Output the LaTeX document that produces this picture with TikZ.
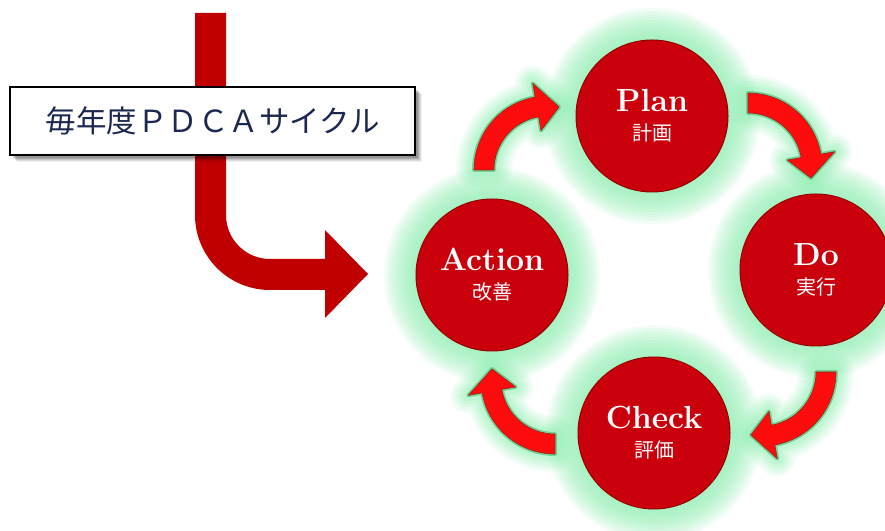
\documentclass[tikz,border=0pt]{standalone}
\usepackage{fontspec}
\newfontfamily\cjk{Noto Sans CJK JP}
\usetikzlibrary{calc}
\definecolor{bandred}{RGB}{192,0,0}
\definecolor{ballred}{RGB}{202,0,12}
\definecolor{balledge}{RGB}{150,0,0}
\definecolor{arrowred}{RGB}{252,12,12}
\definecolor{arrowedge}{RGB}{150,40,30}
\definecolor{glowgreen}{RGB}{135,236,172}
\definecolor{rimgreen}{RGB}{70,190,110}
\definecolor{titleblue}{RGB}{28,40,80}

\tikzset{
  phase/.style={circle, minimum size=152pt, inner sep=0pt, fill=ballred,
    draw=balledge, line width=1pt, text=white, align=center,
    font=\bfseries\fontsize{32}{32}\selectfont},
  titlebox/.style={draw=black, line width=1.5pt, fill=white, inner sep=0pt,
    minimum width=405pt, minimum height=68pt, text=titleblue,
    font=\cjk\fontsize{30.5}{30.5}\selectfont},
  bandarrow/.style={fill=bandred},
  cyclefill/.style={fill=arrowred, draw=arrowedge, line width=0.6pt, line join=round},
}

% soft green halo around a phase circle
\newcommand\ballglow[1]{%
  \foreach \r in {108,105,...,78}{\fill[glowgreen, opacity=0.11] (#1) circle[radius=\r pt];}}

% outline of a curved block arrow: centre, start angle, head base angle, tip angle
\newcommand\cyclepath[4]{($(#1)+(#2:74pt)$) arc[start angle=#2, end angle=#3, radius=74pt]
  -- ($(#1)+(#3:88pt)$) -- ($(#1)+(#4:64pt)$) -- ($(#1)+(#3:40pt)$)
  -- ($(#1)+(#3:54pt)$) arc[start angle=#3, end angle=#2, radius=54pt] -- cycle}

\newcommand\cycleglow[4]{%
  \foreach \w/\o in {36/0.1,30/0.12,24/0.14,18/0.16,12/0.2}{%
    \draw[glowgreen, line width=\w pt, opacity=\o, line join=round] \cyclepath{#1}{#2}{#3}{#4};}
  \draw[rimgreen, line width=4pt, opacity=0.6, line join=round] \cyclepath{#1}{#2}{#3}{#4};}

\newcommand\subtext[1]{{\cjk\mdseries\fontsize{20}{20}\selectfont #1}}

\begin{document}
\begin{tikzpicture}[x=1pt, y=1pt]
\useasboundingbox (0,0) rectangle (885,530);
\clip (0,0) rectangle (885,530);

% centres of the four phases and of the arcs between them
\coordinate (pc) at (652,414);
\coordinate (dc) at (816,260);
\coordinate (cc) at (654,97);
\coordinate (ac) at (492,255);
\coordinate (ap) at (548,360);
\coordinate (pd) at (748,363);
\coordinate (dk) at (762,158);
\coordinate (ka) at (555,150);

% entry arrow running down behind the title
\coordinate (bandtip) at (368,256);
\fill[bandarrow] (195,517) -- (226,517) -- (226,315)
  arc[start angle=180, end angle=270, radius=44pt] -- (325,271) -- (325,300)
  -- (bandtip) -- (325,212) -- (325,240) -- (270,240)
  arc[start angle=270, end angle=180, radius=75pt] -- cycle;

% title with its shadow
\coordinate (boxsw) at (10,375);
\coordinate (boxne) at (415,443);
\foreach \d/\o in {7/0.06,6/0.08,5/0.1,4/0.12,3/0.15}{
  \fill[black, opacity=\o] ($(boxsw)+(\d,-\d)$) rectangle ($(boxne)+(\d,-\d)$);}
\node[titlebox] (title) at ($(boxsw)!0.5!(boxne)$) {毎年度ＰＤＣＡサイクル};

% halos
\ballglow{pc}\ballglow{dc}\ballglow{cc}\ballglow{ac}
\cycleglow{ap}{180}{100}{80}
\cycleglow{pd}{90}{10}{-10}
\cycleglow{dk}{0}{-80}{-100}
\cycleglow{ka}{270}{190}{170}

% arrows of the cycle
\path[cyclefill] \cyclepath{ap}{180}{100}{80};
\path[cyclefill] \cyclepath{pd}{90}{10}{-10};
\path[cyclefill] \cyclepath{dk}{0}{-80}{-100};
\path[cyclefill] \cyclepath{ka}{270}{190}{170};

% phases
\node[phase] (plan) at (pc) {Plan\\[-3pt]\subtext{計画}};
\node[phase] (do) at (dc) {Do\\[-3pt]\subtext{実行}};
\node[phase] (check) at (cc) {Check\\[-3pt]\subtext{評価}};
\node[phase] (action) at (ac) {Action\\[-3pt]\subtext{改善}};
\end{tikzpicture}
\end{document}
